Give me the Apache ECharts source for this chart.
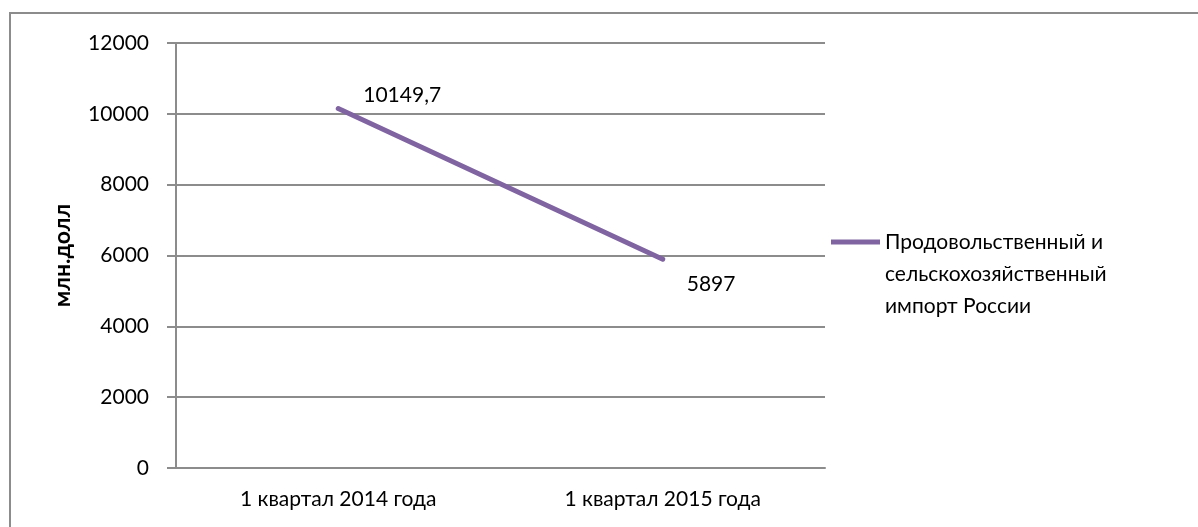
<!DOCTYPE html>
<html><head><meta charset="utf-8">
<script src="https://cdn.jsdelivr.net/npm/echarts@6/dist/echarts.min.js"></script>
<style>html,body{margin:0;padding:0;background:#fff}#c{width:1198px;height:527px}</style>
</head><body><div id="c"></div>
<script>
var categories = ['1 квартал 2014 года', '1 квартал 2015 года'];
var importValues = [10149.7, 5897];
var seriesName = 'Продовольственный и\nсельскохозяйственный\nимпорт России';
var yAxisName = 'млн.долл';
var yMin = 0, yMax = 12000, yStep = 2000;

var font = 'Lato';
var chart = echarts.init(document.getElementById('c'));
chart.setOption({
  animation: false,
  backgroundColor: '#fff',
  graphic: [{
    type: 'rect', silent: true,
    shape: { x: 10, y: 13, width: 1400, height: 800 },
    style: { fill: 'none', stroke: '#8c8c8c', lineWidth: 2 }
  }],
  grid: { left: 176, right: 373, top: 43, bottom: 59, containLabel: false },
  legend: {
    left: 831, top: 162, padding: 0,
    itemWidth: 49, itemHeight: 5, itemGap: 0,
    icon: 'rect',
    data: [{ name: seriesName, itemStyle: { color: '#8064A2' } }],
    formatter: function (name) { return '\n\n' + name; },
    textStyle: { fontFamily: font, fontSize: 21, color: '#000', lineHeight: 32 }
  },
  xAxis: {
    type: 'category', data: categories, boundaryGap: true,
    axisLine: { lineStyle: { color: '#8c8c8c', width: 2 } },
    axisTick: { show: false },
    axisLabel: { fontFamily: font, fontSize: 21, color: '#000', margin: 21 }
  },
  yAxis: {
    type: 'value', min: yMin, max: yMax, interval: yStep,
    name: yAxisName, nameLocation: 'middle', nameGap: 102, nameRotate: 90,
    nameTextStyle: { fontFamily: font, fontSize: 23, fontWeight: 'bold', color: '#000' },
    axisLine: { show: true, lineStyle: { color: '#8c8c8c', width: 2 } },
    axisTick: { show: true, length: 9, lineStyle: { color: '#8c8c8c', width: 2 } },
    axisLabel: { fontFamily: font, fontSize: 21, color: '#000', margin: 27, formatter: function (v) { return String(v); } },
    splitLine: { lineStyle: { color: '#8c8c8c', width: 2 } }
  },
  series: [{
    name: seriesName, type: 'line', data: [
      { value: importValues[0], label: { offset: [18, -13] } },
      { value: importValues[1], label: { offset: [17, 25] } }
    ],
    showSymbol: true, symbol: 'circle', symbolSize: 4,
    lineStyle: { color: '#8064A2', width: 5, cap: 'round' },
    itemStyle: { color: '#8064A2' },
    label: {
      show: true, position: 'right', distance: 5,
      fontFamily: font, fontSize: 21, color: '#000',
      formatter: function (p) { return String(p.value).replace('.', ','); }
    }
  }]
});
</script></body></html>
